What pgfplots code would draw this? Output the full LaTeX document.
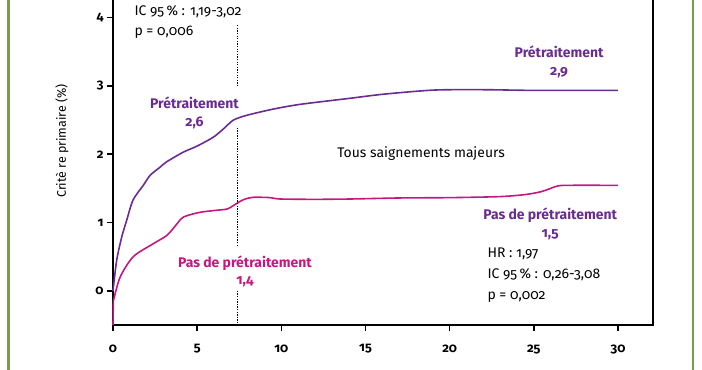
\documentclass[border=0pt]{standalone}
\usepackage{fontspec}
\setmainfont{Fira Sans}[Numbers=OldStyle]
\usepackage{pgfplots}
\pgfplotsset{compat=1.18}
\definecolor{pur}{RGB}{106,44,145}
\definecolor{mag}{RGB}{194,24,128}
\definecolor{grn}{RGB}{122,160,62}
\begin{document}
\begin{tikzpicture}
\begin{axis}[
 at={(0,0)}, anchor=south west,
 scale only axis, width=540bp, height=341.5bp,
 xmin=0, xmax=32.08, ymin=-0.5, ymax=4.5,
 xtick={0,5,...,30}, ytick={0,1,2,3,4},
 tick align=outside, xtick pos=bottom, ytick pos=left,
 major tick length=6bp,
 every tick/.style={black, line width=1.6bp},
 axis line style={line width=2.2bp},
 /pgf/number format/assume math mode=true,
 ticklabel style={font=\bfseries\fontsize{13}{15}\selectfont},
 xticklabel style={yshift=-10bp},
 clip=false,
]
\addplot[pur, line width=1.6bp, smooth, tension=0.45] coordinates {
(0,0) (0.22,0.45) (0.52,0.79) (0.81,1.03) (1.19,1.33) (1.8,1.545) (2.2,1.69)
(2.79,1.81) (3.19,1.89) (4.17,2.03) (5.0,2.12) (5.96,2.25) (6.6,2.38) (7.15,2.50)
(7.94,2.57) (9.5,2.66) (11.1,2.73) (14.1,2.82) (16.1,2.88) (19.1,2.94) (22.1,2.945)
(25,2.935) (30,2.935)};
\addplot[mag, line width=1.6bp] coordinates {(0,-0.5) (0.02,-0.15)};
\addplot[mag, line width=1.6bp, smooth, tension=0.45] coordinates {
(0.02,-0.15) (0.42,0.2) (1.2,0.5) (2.39,0.69) (3.19,0.81) (3.7,0.95)
(4.18,1.08) (5.17,1.15) (6.16,1.18) (6.8,1.2) (7.35,1.28) (7.8,1.34) (8.34,1.37)
(9.33,1.365) (9.92,1.345) (12,1.34) (14.14,1.345) (17.05,1.36) (20.1,1.365)
(23,1.38) (24.5,1.41) (25.4,1.45) (26,1.50) (26.4,1.535) (27,1.545) (30,1.545)};
\draw[black, line width=1.6bp, dash pattern=on 1.3bp off 1.3bp]
 (axis cs:7.4,3.89) -- (axis cs:7.4,2.99)
 (axis cs:7.4,2.39) -- (axis cs:7.4,0.67)
 (axis cs:7.4,0.0) -- (axis cs:7.4,-0.5);
\begin{scope}[every node/.style={font=\fontsize{14}{21}\selectfont}]
\node[anchor=west] at (axis cs:1.07,4.09) {IC 95\,\% : 1,19-3,02};
\node[anchor=west] at (axis cs:1.07,3.78) {p = 0,006};
\node[pur, align=center, font=\bfseries\fontsize{14}{18}\selectfont] at (axis cs:4.84,2.60) {Prétraitement\\2,6};
\node at (axis cs:18.3,2.01) {Tous saignements majeurs};
\node[pur, align=center, font=\bfseries\fontsize{14}{18}\selectfont] at (axis cs:26.5,3.35) {Prétraitement\\2,9};
\node[mag, align=center, font=\bfseries\fontsize{14}{18}\selectfont] at (axis cs:7.84,0.285) {Pas de prétraitement\\1,4};
\node[pur, align=center, font=\bfseries\fontsize{14}{18}\selectfont] at (axis cs:25.97,0.98) {Pas de prétraitement\\1,5};
\node[anchor=west, align=left] at (axis cs:22.04,0.227) {HR : 1,97\\IC 95\,\% : 0,26-3,08\\p = 0,002};
\end{scope}
\end{axis}
\pgfresetboundingbox
\useasboundingbox (-113bp,-45bp) rectangle (589bp,325bp);
\draw[grn, line width=2.5bp] (-104.5bp,-50bp) -- (-104.5bp,330bp);
\draw[grn, line width=2.5bp] (580bp,-50bp) -- (580bp,330bp);
\node[rotate=90, font=\fontsize{12.5}{14}\selectfont] at (-51bp,184bp) {Critè re primaire (\%)};
\end{tikzpicture}
\end{document}
